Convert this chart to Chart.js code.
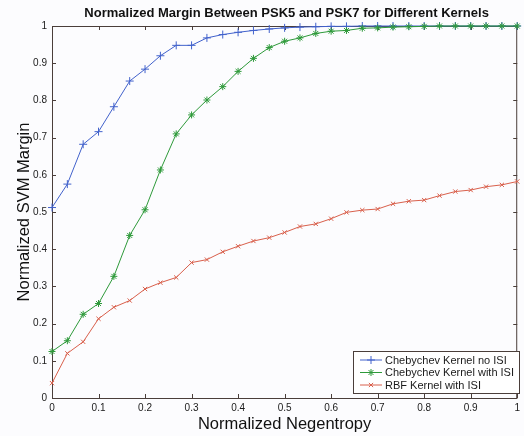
<!DOCTYPE html>
<html>
<head>
<meta charset="utf-8">
<script src="https://cdn.jsdelivr.net/npm/chart.js@4/dist/chart.umd.min.js"></script>
<style>
  html, body { margin: 0; padding: 0; background: #fcfcfe; }
  #wrap { width: 524px; height: 436px; }
</style>
</head>
<body>
<div id="wrap"><canvas id="c" width="524" height="436"></canvas></div>
<script>
// data
const negentropy = [0, 0.033, 0.067, 0.1, 0.133, 0.167, 0.2, 0.233, 0.267, 0.3, 0.333, 0.367, 0.4, 0.433, 0.467,
  0.5, 0.533, 0.567, 0.6, 0.633, 0.667, 0.7, 0.733, 0.767, 0.8, 0.833, 0.867, 0.9, 0.933, 0.967, 1];
const chebNoIsi = [0.512, 0.575, 0.682, 0.716, 0.783, 0.852, 0.884, 0.920, 0.948, 0.948, 0.968, 0.977, 0.983, 0.988, 0.992,
  0.995, 0.997, 0.998, 0.999, 0.999, 1, 1, 1, 1, 1, 1, 1, 1, 1, 1, 1];
const chebWithIsi = [0.125, 0.154, 0.225, 0.254, 0.327, 0.437, 0.506, 0.613, 0.710, 0.761, 0.801, 0.837, 0.878, 0.913, 0.942,
  0.959, 0.968, 0.980, 0.986, 0.988, 0.994, 0.995, 0.997, 0.998, 0.999, 1, 1, 1, 1, 1, 1];
const rbfWithIsi = [0.040, 0.120, 0.151, 0.213, 0.244, 0.262, 0.293, 0.310, 0.324, 0.364, 0.372, 0.393, 0.408, 0.422, 0.431,
  0.445, 0.461, 0.468, 0.482, 0.499, 0.505, 0.508, 0.522, 0.529, 0.532, 0.544, 0.555, 0.559, 0.568, 0.573, 0.582];
const seriesNames = ['Chebychev Kernel no ISI', 'Chebychev Kernel with ISI', 'RBF Kernel with ISI'];
const tickValues = [0, 0.1, 0.2, 0.3, 0.4, 0.5, 0.6, 0.7, 0.8, 0.9, 1];
const tickLabels = ['0', '0.1', '0.2', '0.3', '0.4', '0.5', '0.6', '0.7', '0.8', '0.9', '1'];

const AXIS = '#4a3e3a';
const FONT = 'Arial, "Liberation Sans", sans-serif';

const pts = ys => ys.map((y, i) => ({ x: negentropy[i], y }));

function series(label, ys, color, style, radius, order) {
  return {
    label, data: pts(ys),
    borderColor: color, backgroundColor: color,
    borderWidth: 1, pointStyle: style, pointRadius: radius,
    pointBorderWidth: 1, pointHoverRadius: radius,
    tension: 0, clip: false, order
  };
}

// background, frame and inward ticks like the matlab figure
const frame = {
  id: 'frame',
  beforeDraw(chart) {
    const { ctx } = chart;
    ctx.save();
    ctx.fillStyle = '#fcfcfe';
    ctx.fillRect(0, 0, chart.width, chart.height);
    ctx.restore();
  },
  beforeDatasetsDraw(chart) {
    const { ctx, chartArea: a, scales: { x, y } } = chart;
    ctx.save();
    ctx.strokeStyle = AXIS;
    ctx.lineWidth = 1;
    ctx.strokeRect(a.left + 0.5, a.top + 0.5, a.right - a.left - 1, a.bottom - a.top);
    ctx.beginPath();
    tickValues.forEach(v => {
      const px = Math.round(x.getPixelForValue(v)) + 0.5;
      ctx.moveTo(px, a.bottom); ctx.lineTo(px, a.bottom - 4);
      ctx.moveTo(px, a.top); ctx.lineTo(px, a.top + 4);
      const py = Math.round(y.getPixelForValue(v)) + 0.5;
      ctx.moveTo(a.left, py); ctx.lineTo(a.left + 4, py);
      ctx.moveTo(a.right, py); ctx.lineTo(a.right - 4, py);
    });
    ctx.stroke();
    ctx.restore();
  },
  afterDraw(chart) {
    const { ctx, chartArea: a } = chart;
    ctx.save();
    // title
    ctx.fillStyle = '#111';
    ctx.font = 'bold 13px ' + FONT;
    ctx.textAlign = 'center';
    ctx.textBaseline = 'middle';
    ctx.fillText('Normalized Margin Between PSK5 and PSK7 for Different Kernels', (a.left + a.right) / 2 + 2, 13);

    // legend box inside the plot
    const bx = 353.5, by = 351.5, bw = 166, bh = 42;
    ctx.fillStyle = '#ffffff';
    ctx.fillRect(bx, by, bw, bh);
    ctx.strokeStyle = AXIS;
    ctx.strokeRect(bx, by, bw, bh);
    ctx.font = '11px ' + FONT;
    ctx.textAlign = 'left';
    chart.data.datasets.forEach((ds, i) => {
      const ry = 360 + i * 12.5;
      ctx.strokeStyle = ds.borderColor;
      ctx.lineWidth = 1;
      ctx.beginPath();
      ctx.moveTo(360, ry); ctx.lineTo(382, ry);
      ctx.stroke();
      Chart.helpers.drawPoint(ctx, { pointStyle: ds.pointStyle, radius: ds.pointRadius, borderWidth: 1, rotation: 0 }, 371, ry);
      ctx.fillStyle = '#1a1a1a';
      ctx.fillText(seriesNames[i], 385, ry + 0.5);
    });
    ctx.restore();
  }
};

const tickFmt = (v, i) => tickLabels[i];

new Chart(document.getElementById('c'), {
  type: 'line',
  data: {
    datasets: [
      series(seriesNames[0], chebNoIsi, '#4262cc', 'cross', 4, 3),
      series(seriesNames[1], chebWithIsi, '#2e9a3a', 'star', 3.5, 2),
      series(seriesNames[2], rbfWithIsi, '#d9604c', 'crossRot', 3, 1)
    ]
  },
  options: {
    responsive: false,
    animation: false,
    events: [],
    layout: { padding: { top: 26, right: 0, left: 0, bottom: 0 } },
    plugins: { legend: { display: false }, title: { display: false }, tooltip: { enabled: false } },
    scales: {
      x: {
        type: 'linear', min: 0, max: 1,
        grid: { display: false, drawTicks: false }, border: { display: false },
        afterBuildTicks: s => { s.ticks = tickValues.map(v => ({ value: v })); },
        afterFit: s => { s.height = 38; },
        ticks: { autoSkip: false, maxRotation: 0, padding: 4, color: '#1a1a1a',
          font: { family: FONT, size: 10 }, callback: tickFmt },
        title: { display: true, text: 'Normalized Negentropy', color: '#111',
          font: { family: FONT, size: 16.5 }, padding: { top: 0, bottom: 2 } }
      },
      y: {
        type: 'linear', min: 0, max: 1,
        grid: { display: false, drawTicks: false }, border: { display: false },
        afterBuildTicks: s => { s.ticks = tickValues.map(v => ({ value: v })); },
        afterFit: s => { s.width = 52; },
        ticks: { padding: 5, color: '#1a1a1a', font: { family: FONT, size: 10 }, callback: tickFmt },
        title: { display: true, text: 'Normalized SVM Margin', color: '#111',
          font: { family: FONT, size: 16.5 }, padding: { top: 15, bottom: 0 } }
      }
    }
  },
  plugins: [frame]
});
</script>
</body>
</html>
